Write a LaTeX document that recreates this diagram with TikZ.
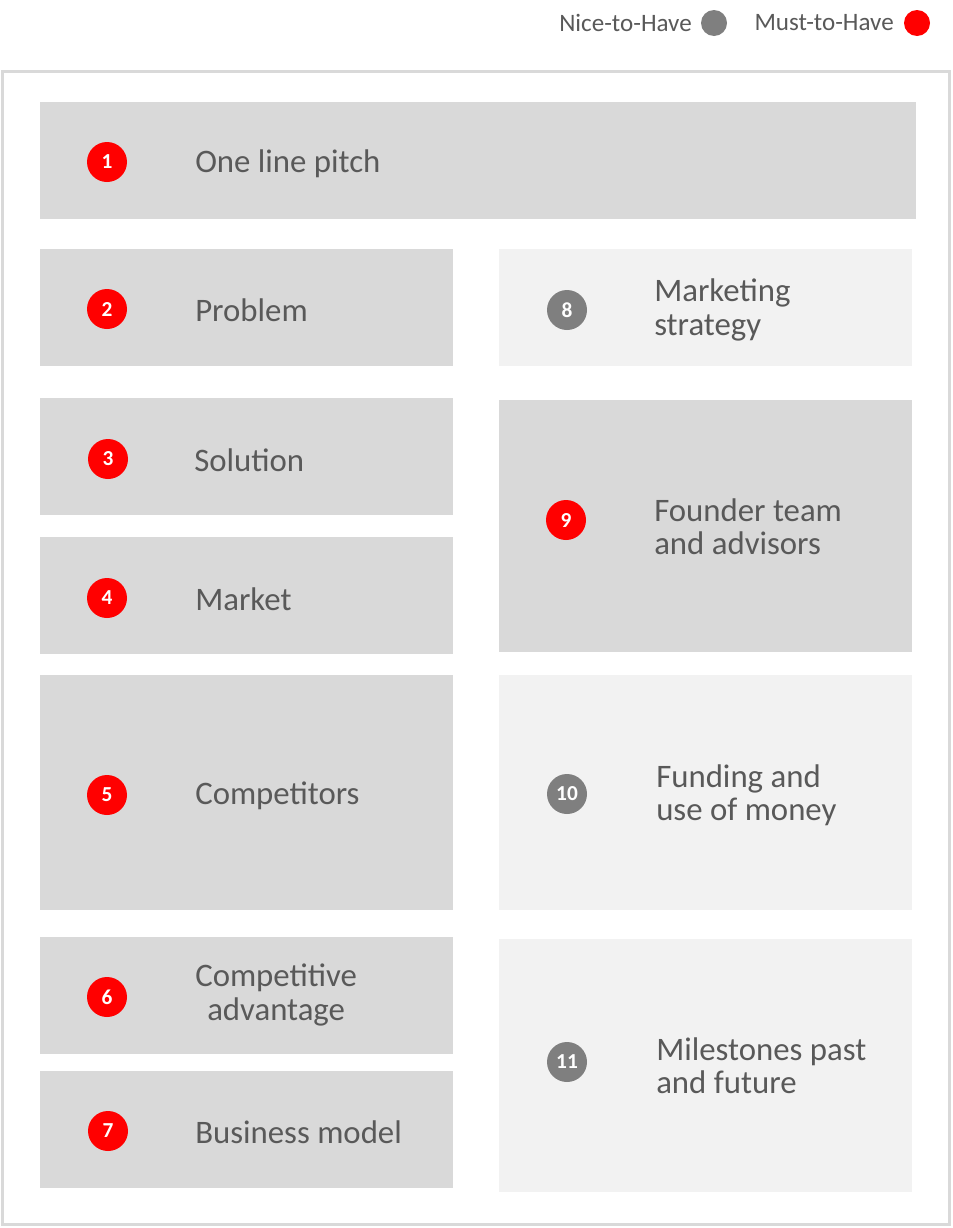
\documentclass[tikz,border=0pt]{standalone}
\usepackage{fontspec}
\setmainfont{Carlito}
\usepackage{tikz}

\definecolor{boxdark}{HTML}{D9D9D9}
\definecolor{boxlight}{HTML}{F2F2F2}
\definecolor{txtgray}{HTML}{595959}
\definecolor{dotgray}{HTML}{7F7F7F}
\definecolor{dotred}{HTML}{FF0000}

\begin{document}
\begin{tikzpicture}[x=0.75pt,y=-0.75pt]
  \tikzstyle{every node}=[inner sep=0pt]
  \tikzstyle{must}=[fill=boxdark]
  \tikzstyle{nice}=[fill=boxlight]
  \tikzstyle{dot}=[circle,minimum size=30pt,text=white,font=\fontsize{16}{18}\selectfont\bfseries]
  \tikzstyle{reddot}=[dot,fill=dotred]
  \tikzstyle{graydot}=[dot,fill=dotgray]
  \tikzstyle{label}=[anchor=west,align=left,text=txtgray,font=\fontsize{24.6}{25}\selectfont]
  \tikzstyle{legend}=[anchor=east,text=txtgray,font=\fontsize{18.8}{20}\selectfont]

  \useasboundingbox (0,0) rectangle (953,1228);

  % legend
  \node[legend] (nicetxt) at (692,23) {Nice-to-Have};
  \node[circle,fill=dotgray,minimum size=19.5pt] (nicedot) at (714,23) {};
  \node[legend] (musttxt) at (894,23) {Must-to-Have};
  \node[circle,fill=dotred,minimum size=19.5pt] (mustdot) at (917,23) {};

  % frame
  \draw[boxdark,line width=2.25pt] (2.5,71.5) rectangle (949.5,1224.5);

  % left column
  \fill[must] (40,102) rectangle (916,219);
  \fill[must] (40,249) rectangle (453,366);
  \fill[must] (40,398) rectangle (453,515);
  \fill[must] (40,537) rectangle (453,654);
  \fill[must] (40,675) rectangle (453,910);
  \fill[must] (40,937) rectangle (453,1054);
  \fill[must] (40,1071) rectangle (453,1188);

  % right column
  \fill[nice] (499,249) rectangle (912,366);
  \fill[must] (499,400) rectangle (912,652);
  \fill[nice] (499,675) rectangle (912,910);
  \fill[nice] (499,939) rectangle (912,1192);

  \node[reddot]  (d1)  at (107,162)  {1};
  \node[reddot]  (d2)  at (107,309)  {2};
  \node[reddot]  (d3)  at (108,459)  {3};
  \node[reddot]  (d4)  at (107,598)  {4};
  \node[reddot]  (d5)  at (107,795)  {5};
  \node[reddot]  (d6)  at (107,997)  {6};
  \node[reddot]  (d7)  at (108,1131) {7};
  \node[graydot] (d8)  at (567,310)  {8};
  \node[reddot]  (d9)  at (566,520)  {9};
  \node[graydot] (d10) at (567,794)  {10};
  \node[graydot] (d11) at (567,1062) {11};

  \node[label] (t1)  at (195,164)  {One line pitch};
  \node[label] (t2)  at (195,310)  {Problem};
  \node[label] (t3)  at (194,460)  {Solution};
  \node[label] (t4)  at (195,599)  {Market};
  \node[label] (t5)  at (195,796)  {Competitors};
  \node[label,align=center] (t6) at (195,995) {Competitive\\advantage};
  \node[label] (t7)  at (195,1132) {Business model};
  \node[label] (t8)  at (654,310)  {Marketing\\strategy};
  \node[label] (t9)  at (654,527)  {Founder team\\and advisors};
  \node[label] (t10) at (656,795)  {Funding and\\use of money};
  \node[label] (t11) at (656,1066) {Milestones past\\and future};

\end{tikzpicture}
\end{document}
